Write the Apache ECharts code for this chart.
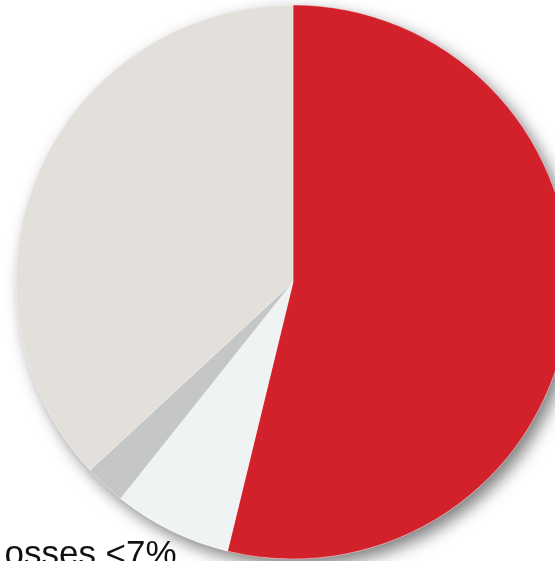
<!DOCTYPE html>
<html>
<head>
<meta charset="utf-8">
<style>
  html, body { margin: 0; padding: 0; background: #ffffff; }
  #chart { width: 555px; height: 561px; }
</style>
<script src="https://cdn.jsdelivr.net/npm/echarts@6/dist/echarts.min.js"></script>
</head>
<body>
<div id="chart"></div>
<script>
// Slice shares in percent, clockwise from twelve o'clock
const categories = ['Used', 'Losses', 'Other', 'Remaining'];
const values = [53.8, 6.9, 2.4, 36.9];
const colors = ['#d2212b', '#f0f3f3', '#c4c7c6', '#e3e0db'];
const noteText = 'Losses <7%';

const chart = echarts.init(document.getElementById('chart'), null, { renderer: 'canvas' });

const center = [293, 282];
const radius = 277;

chart.setOption({
  animation: false,
  backgroundColor: '#ffffff',
  series: [
    {
      // full disc underneath, only to cast the drop shadow
      type: 'pie',
      silent: true,
      center: center,
      radius: radius,
      label: { show: false },
      labelLine: { show: false },
      data: [{
        value: 1,
        itemStyle: {
          color: '#e3e0db',
          shadowBlur: 16,
          shadowOffsetX: 6,
          shadowOffsetY: 7,
          shadowColor: 'rgba(0,0,0,0.5)'
        }
      }]
    },
    {
      type: 'pie',
      center: center,
      radius: radius,
      startAngle: 90,
      clockwise: true,
      label: { show: false },
      labelLine: { show: false },
      itemStyle: { borderColor: 'rgba(255,255,255,0.6)', borderWidth: 0.6 },
      data: categories.map((name, i) => ({
        name: name,
        value: values[i],
        itemStyle: { color: colors[i] }
      }))
    }
  ],
  graphic: [
    {
      type: 'text',
      left: -15,
      top: 538,
      style: {
        text: noteText,
        font: '35px "Liberation Sans", Arial, sans-serif',
        fill: '#111111'
      }
    }
  ]
});
</script>
</body>
</html>
